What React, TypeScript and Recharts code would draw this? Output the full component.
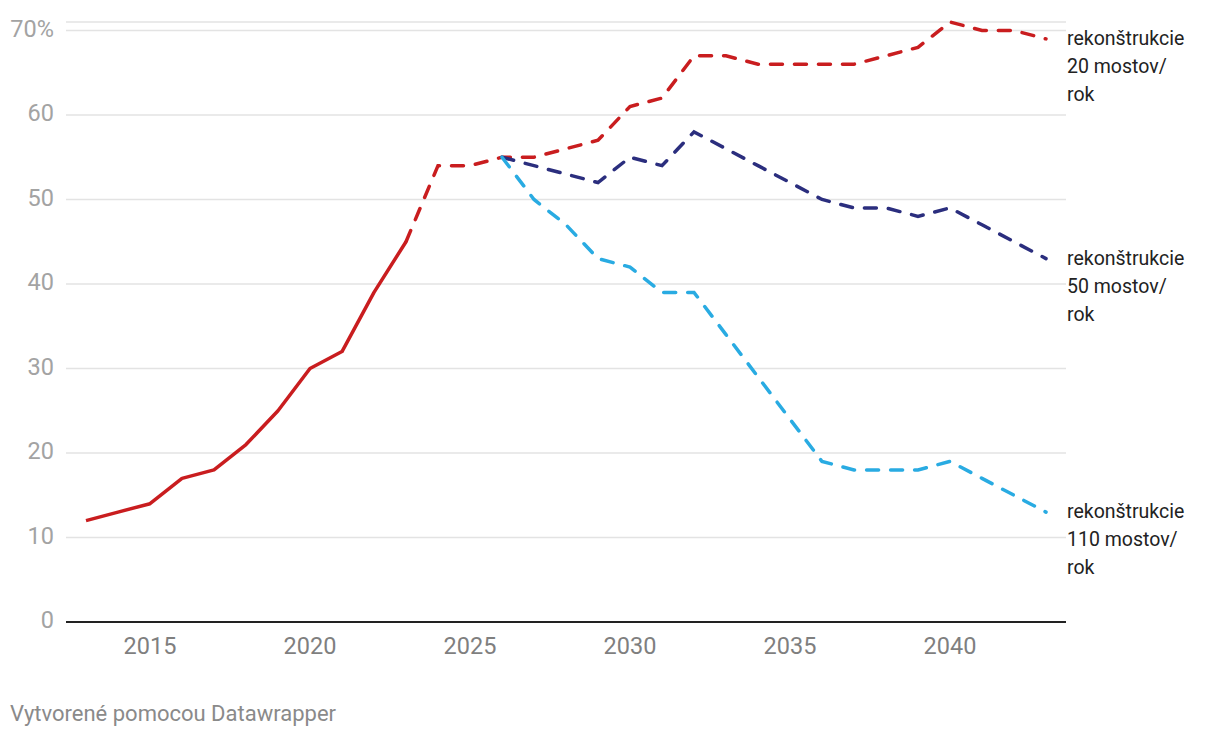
import React from 'react'
import { LineChart, Line, XAxis, YAxis, CartesianGrid, LabelList } from 'recharts'

const years = [
  2013, 2014, 2015, 2016, 2017, 2018, 2019, 2020, 2021, 2022, 2023, 2024, 2025, 2026, 2027,
  2028, 2029, 2030, 2031, 2032, 2033, 2034, 2035, 2036, 2037, 2038, 2039, 2040, 2041, 2042, 2043,
]

// measured share (solid), 2013–2023
const history = [12, 13, 14, 17, 18, 21, 25, 30, 32, 39, 45]

// projections
const recon20 = [45, 54, 54, 55, 55, 56, 57, 61, 62, 67, 67, 66, 66, 66, 66, 67, 68, 71, 70, 70, 69] // 2023–2043
const recon50 = [55, 54, 53, 52, 55, 54, 58, 56, 54, 52, 50, 49, 49, 48, 49, 47, 45, 43] // 2026–2043
const recon110 = [55, 50, 47, 43, 42, 39, 39, 34, 29, 24, 19, 18, 18, 18, 19, 17, 15, 13] // 2026–2043

const yTicks = [0, 10, 20, 30, 40, 50, 60, 70]
const xTicks = [2015, 2020, 2025, 2030, 2035, 2040]

const labels20 = ['rekonštrukcie', '20 mostov/', 'rok']
const labels50 = ['rekonštrukcie', '50 mostov/', 'rok']
const labels110 = ['rekonštrukcie', '110 mostov/', 'rok']

const at = (arr: number[], start: number, year: number) => {
  const i = year - start
  return i >= 0 && i < arr.length ? arr[i] : null
}

const data = years.map((year) => ({
  year,
  history: at(history, 2013, year),
  recon20: at(recon20, 2023, year),
  recon50: at(recon50, 2026, year),
  recon110: at(recon110, 2026, year),
}))

const lastIndex = years.length - 1

const endLabel = (lines: string[]) => (props: any) => {
  const { x, y, index } = props
  if (index !== lastIndex) return null
  return (
    <text x={x + 21} y={y} fill="#222" fontSize={19.5} fontFamily="Roboto, sans-serif">
      {lines.map((l, i) => (
        <tspan key={i} x={x + 21} dy={i === 0 ? 6 : 28}>
          {l}
        </tspan>
      ))}
    </text>
  )
}

const font = 'Roboto, sans-serif'
const dash = '12 12'

export default function App() {
  return (
    <div style={{ position: 'absolute', left: 0, top: 0, width: 1220, height: 738, background: '#fff', fontFamily: font }}>
      <LineChart width={1220} height={680} data={data} margin={{ top: 22, right: 154, bottom: 0, left: 0 }}>
        <CartesianGrid vertical={false} stroke="#e3e3e3" strokeWidth={1.5} />
        <XAxis
          dataKey="year"
          type="number"
          domain={[2013, 2043]}
          ticks={xTicks}
          padding={{ left: 20, right: 20 }}
          height={58}
          tickLine={false}
          tickSize={0}
          tickMargin={15}
          axisLine={{ stroke: '#222', strokeWidth: 2 }}
          tick={{ fill: '#7f7f7f', fontSize: 23.5, fontFamily: font }}
        />
        <YAxis
          domain={[0, 71]}
          ticks={yTicks}
          width={66}
          axisLine={false}
          tickLine={false}
          tickSize={0}
          tickMargin={12}
          tick={{ fill: '#a3a3a3', fontSize: 23.5, fontFamily: font, dy: -2 }}
          tickFormatter={(v: number) => (v === 70 ? '70%' : String(v))}
        />
        <Line dataKey="history" stroke="#c91d1f" strokeWidth={3.5} dot={false} isAnimationActive={false} strokeLinejoin="round" />
        <Line dataKey="recon20" stroke="#c91d1f" strokeWidth={3.5} strokeDasharray={dash} strokeLinecap="round" dot={false} isAnimationActive={false}>
          <LabelList dataKey="recon20" content={endLabel(labels20)} />
        </Line>
        <Line dataKey="recon50" stroke="#2b2e7e" strokeWidth={3.5} strokeDasharray={dash} strokeLinecap="round" dot={false} isAnimationActive={false}>
          <LabelList dataKey="recon50" content={endLabel(labels50)} />
        </Line>
        <Line dataKey="recon110" stroke="#29abe2" strokeWidth={3.5} strokeDasharray={dash} strokeLinecap="round" dot={false} isAnimationActive={false}>
          <LabelList dataKey="recon110" content={endLabel(labels110)} />
        </Line>
      </LineChart>
      <div style={{ position: 'absolute', left: 10, top: 701, fontSize: 22, color: '#8a8a8a' }}>Vytvorené pomocou Datawrapper</div>
    </div>
  )
}
